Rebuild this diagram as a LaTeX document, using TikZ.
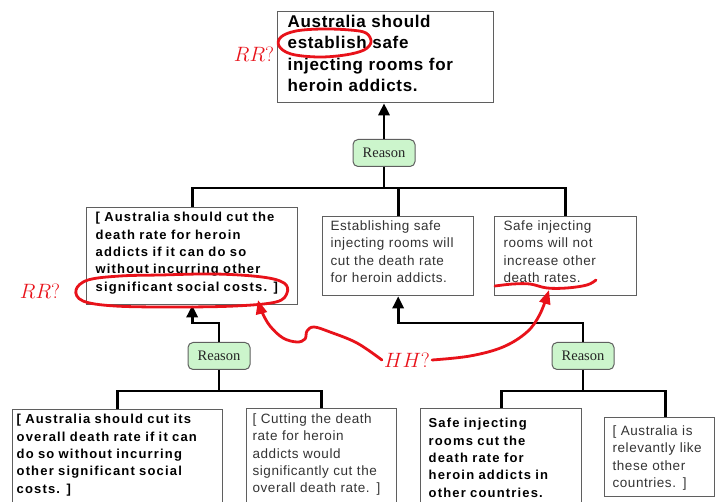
\documentclass[tikz,border=0pt]{standalone}
\usepackage{fontspec}
\newfontfamily\headfont[LetterSpace=4]{Liberation Sans}
\newfontfamily\claimfont[LetterSpace=9]{Liberation Sans}
\newfontfamily\plainfont[LetterSpace=4]{Liberation Sans}
\newfontfamily\tagfont{Liberation Serif}
\usetikzlibrary{arrows.meta}

\definecolor{boxgray}{RGB}{95,95,95}
\definecolor{reasongreen}{RGB}{204,245,204}
\definecolor{inkred}{RGB}{232,18,26}

\tikzset{
  box/.style={draw=boxgray, line width=1.3pt, anchor=north west, align=left, inner ysep=0pt},
  headbox/.style={box, font=\headfont\bfseries\fontsize{17}{21.3}\selectfont},
  boldbox/.style={box, font=\claimfont\bfseries\fontsize{13}{17.4}\selectfont},
  plainbox/.style={box, text=black!80, font=\plainfont\fontsize{13.5}{17.3}\selectfont},
  reason/.style={draw=boxgray, fill=reasongreen, rounded corners=5pt, line width=1pt,
    minimum width=62pt, minimum height=27pt, inner sep=0pt, text=black!85,
    font=\tagfont\fontsize{14.5}{14.5}\selectfont},
  link/.style={line width=2.8pt, black},
  arrowup/.style={-{Triangle[width=11pt,length=12pt]}},
  ink/.style={draw=inkred, line width=2.8pt, line cap=round, line join=round},
  inkhead/.style={-{Triangle[width=11pt,length=14pt]}},
  note/.style={text=inkred, inner sep=2pt, font=\fontsize{19.5}{19.5}\selectfont}
}

\begin{document}
\begin{tikzpicture}[x=1pt, y=-1pt]
    \useasboundingbox (0,0) rectangle (715,502);
    \clip (0,0) rectangle (715,502);

    % --- TOP CLAIM ---
    \node[headbox, inner xsep=10pt, text width=196pt, text height=16pt, text depth=75pt]
        (claim) at (277,11) {Australia should\\establish safe\\injecting rooms for\\heroin addicts.};
    \node[reason] (r0) at (384,153) {Reason};

    % --- MIDDLE ROW ---
    \node[boldbox, inner xsep=9pt, text width=193pt, text height=14pt, text depth=83pt]
        (m1) at (86,207) {[ Australia should cut the\\death rate for heroin\\addicts if it can do so\\without incurring other\\significant social costs. ]};
    \node[plainbox, inner xsep=8pt, text width=135pt, text height=14pt, text depth=65pt]
        (m2) at (322,216) {Establishing safe\\injecting rooms will\\cut the death rate\\for heroin addicts.};
    \node[plainbox, inner xsep=9pt, text width=124pt, text height=14pt, text depth=65pt]
        (m3) at (494,216) {Safe injecting\\rooms will not\\increase other\\death rates.};

    \node[reason] (r1) at (219,356) {Reason};
    \node[reason] (r2) at (583,356) {Reason};

    % --- BOTTOM ROW ---
    \node[boldbox, inner xsep=4pt, text width=202pt, text height=14pt, text depth=111pt]
        (b1) at (12,409) {[ Australia should cut its\\overall death rate if it can\\do so without incurring\\other significant social\\costs. ]};
    \node[plainbox, inner xsep=6pt, text width=138pt, text height=15pt, text depth=112pt]
        (b2) at (246,408) {[ Cutting the death\\rate for heroin\\addicts would\\significantly cut the\\overall death rate. ]};
    \node[boldbox, inner xsep=8pt, text width=145pt, text height=19pt, text depth=112pt]
        (b3) at (420,408) {Safe injecting\\rooms cut the\\death rate for\\heroin addicts in\\other countries.};
    \node[plainbox, inner xsep=8pt, text width=94pt, text height=18pt, text depth=61pt]
        (b4) at (604,417) {[ Australia is\\relevantly like\\these other\\countries. ]};

    % --- TREE LINKS ---
    \coordinate (bar0) at (0,188);
    \coordinate (bend1) at (0,323);
    \coordinate (bar1) at (0,391);
    \coordinate (drop4) at ([xshift=6pt]b4.north);

    \draw[link, arrowup] (r0.north) -- (r0.north |- claim.south);
    \draw[link] (r0.south) -- (r0.south |- bar0);
    \draw[link] (m1.north) |- (m3.north |- bar0) -- (m3.north);
    \draw[link] (m2.north |- bar0) -- (m2.north);

    \draw[link, arrowup] (r1.north) |- (m1.south |- bend1) -- (m1.south);
    \draw[link, arrowup] (r2.north) |- (m2.south |- bend1) -- (m2.south);

    \draw[link] (r1.south) -- (r1.south |- bar1);
    \draw[link] (b1.north) |- (b2.north |- bar1) -- (b2.north);
    \draw[link] (r2.south) -- (r2.south |- bar1);
    \draw[link] (b3.north) |- (drop4 |- bar1) -- (drop4);

    % --- RED MARKUP ---
    \node[note] (rr1) at (254,54) {$RR?$};
    \node[note] (rr2) at (40,291) {$RR?$};
    \node[note] (hh) at (407,360) {$HH?$};

    % ring round "establish"
    \draw[ink] plot[smooth cycle, tension=0.6] coordinates {(350,30) (322,29) (296,31) (281,37)
        (279,46) (291,54) (318,57) (345,55) (364,50) (371,42) (366,33)};
    % ring round the last line
    \draw[ink] plot[smooth cycle, tension=0.6] coordinates {(160,275) (215,274) (262,277) (284,283)
        (287,293) (276,302) (235,306) (175,307) (115,306) (83,301) (76,290) (88,280) (120,276)};
    % wavy underline
    \draw[ink] plot[smooth, tension=0.6] coordinates {(495,286) (513,284) (530,284) (547,288)
        (567,288) (587,285) (596,280)};

    \draw[ink, inkhead] plot[smooth, tension=0.6] coordinates {(hh.west) (357,343) (330,332)
        (314,327) (307,331) (305,339) (297,342) (283,338) (270,326) (262,312) (258,300)};
    \draw[ink, inkhead] plot[smooth, tension=0.6] coordinates {(hh.east) (470,356) (503,347)
        (527,332) (540,314) (549,290)};
\end{tikzpicture}
\end{document}
